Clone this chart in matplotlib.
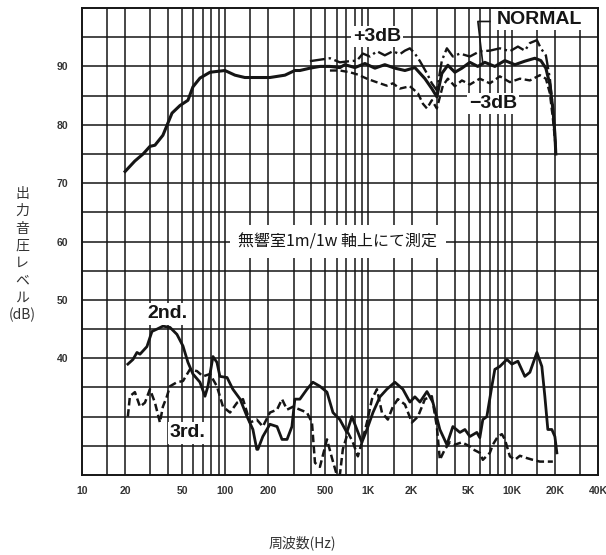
import numpy as np
import matplotlib
matplotlib.use('Agg')
import matplotlib.pyplot as plt
from matplotlib.ticker import NullLocator

plt.rcParams['font.family'] = ['Liberation Sans', 'Noto Sans CJK JP', 'DejaVu Sans']

#%% data

norm_f = [20, 23.4, 26.7, 29.8, 32.3, 36.7, 42.5, 48.3, 54.9, 59.5,
          66.6, 78.2, 99.5, 117, 137, 205, 261, 306, 332, 390,
          458, 538, 631, 684, 804, 944, 1109, 1300, 1528, 1795,
          2108, 2477, 2767, 3000, 3251, 3581, 4008, 4487, 5102, 5794,
          6486, 7621, 8954, 10520, 12340, 14500, 15960, 17300, 18450, 19360,
          20000, 20300]
norm_db = [72, 73.8, 75, 76.3, 76.5, 78.2, 82, 83.3, 84.2, 86.5,
           88, 89, 89.3, 88.5, 88.1, 88.1, 88.5, 89.3, 89.3, 89.7,
           90, 90, 89.8, 90.3, 89.8, 90.5, 89.7, 90.3, 89.7, 89.3,
           89.8, 87.9, 86.2, 84.8, 88.8, 90.2, 89, 89.7, 90.7, 90,
           90.7, 90, 91, 90.3, 90.9, 91.4, 91, 89.7, 86.9, 82.8,
           78.5, 75]

plus_f = [390, 538, 631, 741, 830, 914, 1023, 1145, 1300, 1479,
          1656, 1795, 1945, 2108, 2286, 2559, 2767, 3000, 3251, 3524,
          3881, 4345, 5102, 5984, 7031, 8260, 9705, 11040, 12340, 13380,
          14980, 15960, 17300, 18450, 19360, 20300]
plus_db = [90.9, 91.4, 90.7, 90.9, 91, 92.2, 91.7, 92.6, 91.9, 92.6,
           92.1, 92.7, 93.1, 92.2, 90.9, 88.8, 87.1, 85.9, 91, 93.1,
           91.7, 92.2, 91.7, 92.6, 92.7, 93.1, 92.6, 93.4, 92.7, 94,
           94.5, 93.1, 91.9, 87.9, 82.8, 75.9]

minus_f = [538, 631, 741, 843, 975, 1109, 1343, 1479, 1656, 1945,
           2213, 2399, 2559, 2767, 3000, 3304, 3581, 4008, 4487, 5102,
           5984, 7031, 8260, 9705, 11400, 13380, 15710, 17300, 18450, 19360,
           20300]
minus_db = [89.3, 89.3, 89, 88.6, 87.9, 87.4, 86.7, 87.1, 86.2, 86.6,
            85.4, 83.6, 82.8, 84.2, 82.8, 86.7, 87.9, 86.6, 87.6, 86.9,
            87.9, 87.1, 88.3, 87.3, 87.9, 87.6, 88.5, 87.9, 85.4, 81.1,
            75.9]

h2_f = [20.9, 22.7, 24.2, 25.4, 28.4, 30.8, 33.4, 36.7, 41.1, 46.0,
        50.7, 54.9, 59.5, 66.6, 72.2, 75.7, 82.1, 87.5, 91.8, 103,
        113, 127, 142, 156, 166, 169, 183, 205, 230, 249,
        270, 292, 306, 332, 372, 409, 458, 513, 565, 631,
        706, 766, 830, 899, 975, 1074, 1202, 1343, 1528, 1738,
        1945, 2108, 2286, 2559, 2812, 3148, 3524, 3881, 4345, 4710,
        5102, 5705, 5984, 6281, 6699, 7261, 7621, 8260, 9247, 10020,
        11040, 12340, 13380, 14980, 16220, 17020, 17860, 19050, 20000, 20650]
h2_db = [39, 39.8, 41, 40.7, 42, 44.6, 45, 45.5, 45.3, 44.1,
         42.1, 39.3, 37.3, 35.9, 33.5, 35.2, 40.3, 39.3, 36.9, 36.7,
         34.7, 33, 30, 27.8, 24.4, 24.4, 26.6, 28.7, 28.3, 26.1,
         26.1, 28.3, 33, 33, 34.7, 35.9, 35.2, 34.2, 30.7, 29.5,
         27.3, 30, 27.8, 25.6, 27.8, 30.7, 33.4, 34.7, 35.9, 34.7,
         32.5, 33.4, 32.5, 34.3, 32.5, 27.8, 25.2, 28.3, 27.3, 27.8,
         26.6, 27.3, 26.4, 29.5, 30, 35.2, 38.1, 38.6, 39.8, 39,
         39.5, 36.9, 37.6, 41, 38.6, 33.5, 27.8, 27.8, 26.6, 23.8]

h3_f = [20.9, 21.6, 23.4, 25.4, 27.5, 29.8, 32.3, 35.0, 36.7, 39.2,
        41.1, 46.0, 50.7, 56.7, 63.5, 69.9, 78.2, 87.5, 96.4, 108,
        121, 133, 149, 166, 183, 205, 230, 249, 270, 297,
        332, 372, 403, 423, 458, 513, 556, 601, 631, 662,
        718, 778, 843, 899, 975, 1057, 1145, 1241, 1365, 1479,
        1603, 1795, 2009, 2213, 2477, 2767, 3000, 3148, 3413, 3698,
        4008, 4487, 5102, 5355, 5984, 6281, 7031, 7379, 7998, 8531,
        8954, 9705, 10520, 11400, 12750, 14040, 15710, 19360]
h3_db = [30, 33.5, 34.2, 31.7, 32.4, 34.7, 32.4, 29, 31.7, 33.5,
         35.2, 35.9, 36.1, 38.1, 37.8, 36.9, 37.3, 35.2, 31.7, 30.7,
         32.4, 33, 29, 29.5, 28.3, 30.7, 31.2, 33, 31.2, 31.7,
         31.2, 30.7, 29, 22.1, 21.4, 26.1, 22.9, 20, 20, 24.4,
         27.3, 25.6, 23.2, 25.6, 29, 33, 34.7, 30.7, 29.5, 31.7,
         33, 32.1, 29, 30, 33, 33.5, 28.3, 22.6, 24.4, 25.6,
         25.2, 25.6, 24.9, 24.4, 23.8, 22.6, 23.8, 25.2, 26.6, 27,
         26.1, 23.2, 22.6, 23.3, 22.9, 22.6, 22.3, 22.3]

xtick_vals = [10, 20, 50, 100, 200, 500, 1000, 2000, 5000, 10000, 20000, 40000]
xtick_labels = ['10', '20', '50', '100', '200', '500', '1K', '2K', '5K', '10K', '20K', '40K']
ytick_vals = [40, 50, 60, 70, 80, 90]

ylabel_chars = ['出', '力', '音', '圧', 'レ', 'ベ', 'ル', '(dB)']

#%% figure

fig = plt.figure(figsize=(6.06, 5.55), dpi=100)
ax = fig.add_axes([0.1353, 0.1441, 0.8515, 0.8414])
ax.set_xscale('log')
ax.set_xlim(10, 40000)
ax.set_ylim(20, 100)

ink = '#151515'

# log grid: 1, 1.5, 2 ... 9 per decade
for d in [10, 100, 1000, 10000]:
    for m in [1, 1.5, 2, 3, 4, 5, 6, 7, 8, 9]:
        g = m * d
        if 10 < g < 40000:
            ax.axvline(g, color=ink, lw=1.1, zorder=1)
for g in range(25, 100, 5):
    ax.axhline(g, color=ink, lw=1.1, zorder=1)

for s in ax.spines.values():
    s.set_linewidth(1.4)
    s.set_color(ink)

ax.set_xticks(xtick_vals)
ax.set_xticklabels(xtick_labels)
ax.xaxis.set_minor_locator(NullLocator())
ax.set_yticks(ytick_vals)
ax.set_yticklabels([str(v) for v in ytick_vals])
ax.tick_params(length=0, labelsize=7.5, colors='#333333', pad=10)
ax.tick_params(axis='x', pad=8)
for lab in ax.get_xticklabels() + ax.get_yticklabels():
    lab.set_fontweight('bold')

# curves
ax.plot(norm_f, norm_db, '-', color=ink, lw=2.2, zorder=4)
ax.plot(plus_f, plus_db, '-.', color=ink, lw=1.7, zorder=4)
ax.plot(minus_f, minus_db, '--', color=ink, lw=1.7, dashes=(3, 1.5), zorder=4)
ax.plot(h2_f, h2_db, '-', color=ink, lw=2.0, zorder=4)
ax.plot(h3_f, h3_db, '--', color=ink, lw=1.8, dashes=(3, 1.5), zorder=4)

# labels
box = dict(facecolor='white', edgecolor='none', pad=1.5)
ax.text(1144, 95.1, '+3dB', fontsize=14, fontweight='bold', ha='center', va='center',
        color=ink, bbox=box, zorder=6)
ax.text(7380, 83.7, '\u22123dB', fontsize=14, fontweight='bold', ha='center', va='center',
        color=ink, bbox=box, zorder=6)
ax.text(15700, 98, 'NORMAL', fontsize=14, fontweight='bold', ha='center', va='center',
        color=ink, bbox=box, zorder=6)
ax.plot([7030, 5800, 6280], [97.7, 97.7, 90.5], '-', color=ink, lw=1.2, zorder=6)
ax.text(39.2, 47.6, '2nd.', fontsize=14, fontweight='bold', ha='center', va='center',
        color=ink, bbox=box, zorder=6)
ax.text(54.9, 27.2, '3rd.', fontsize=14, fontweight='bold', ha='center', va='center',
        color=ink, bbox=box, zorder=6)

ax.text(610, 60, '無響室1m/1w 軸上にて測定', fontsize=11.5, ha='center', va='center',
        color=ink, family=['Noto Sans CJK JP', 'DejaVu Sans'],
        bbox=dict(facecolor='white', edgecolor='none', pad=6), zorder=6)

# axis titles
for i, ch in enumerate(ylabel_chars):
    fig.text(22 / 606, 1 - (194 + i * 17.3) / 555, ch, fontsize=10, ha='center', va='center',
             color='#333333', family=['Noto Sans CJK JP', 'DejaVu Sans'])
fig.text(302 / 606, 1 - 543 / 555, '周波数(Hz)', fontsize=10, ha='center', va='center',
         color='#333333', family=['Noto Sans CJK JP', 'DejaVu Sans'])

plt.savefig('out.png', dpi=100)
plt.close()
